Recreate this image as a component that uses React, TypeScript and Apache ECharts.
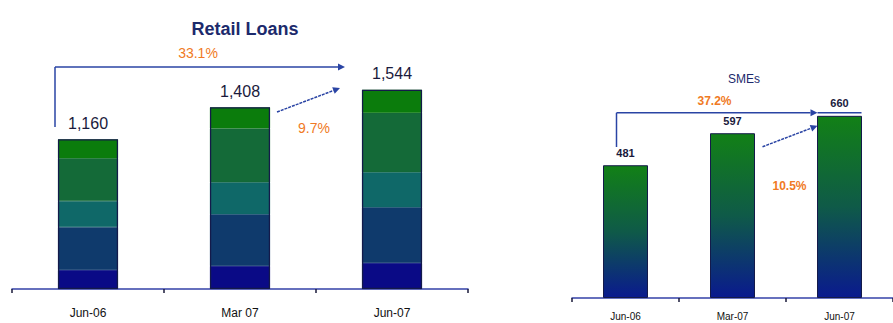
import React, { useEffect, useRef } from "react";
import * as echarts from "echarts";

// ---- Data ----
const retailCategories = ["Jun-06", "Mar 07", "Jun-07"];
const smeCategories = ["Jun-06", "Mar-07", "Jun-07"];
// Retail loan segments, bottom to top
const retailSeg1 = [147, 178, 201];
const retailSeg2 = [333, 402, 433];
const retailSeg3 = [201, 247, 271];
const retailSeg4 = [333, 418, 461];
const retailSeg5 = [146, 163, 178];
const retailTotals = [1160, 1408, 1544];
const smeValues = [481, 597, 660];
const retailGrowth = ["33.1%", "9.7%"];
const smeGrowth = ["37.2%", "10.5%"];

const segColors = ["#0a0a86", "#0f3a6c", "#0f6868", "#146a38", "#0b7c0c"];
const ORANGE = "#f07a24";
const ARROW = "#2a44a4";
const FONT = "'Liberation Sans', Arial, sans-serif";

function arrow(x1: number, y1: number, x2: number, y2: number, dashed: boolean, w = 1.5) {
  const dx = x2 - x1, dy = y2 - y1;
  const len = Math.sqrt(dx * dx + dy * dy);
  const ux = dx / len, uy = dy / len;
  const hl = 7, hw = 3.5;
  const bx = x2 - ux * hl, by = y2 - uy * hl;
  return [
    {
      type: "line",
      shape: { x1, y1, x2: bx, y2: by },
      style: { stroke: ARROW, lineWidth: w, lineDash: dashed ? [3, 1] : null },
    },
    {
      type: "polygon",
      shape: {
        points: [
          [x2, y2],
          [bx - uy * hw, by + ux * hw],
          [bx + uy * hw, by - ux * hw],
        ],
      },
      style: { fill: ARROW },
    },
  ];
}

export default function App() {
  const ref = useRef<HTMLDivElement>(null);
  useEffect(() => {
    document.body.style.margin = "0";
    const chart = echarts.init(ref.current!, null, { renderer: "svg" });
    const segs = [retailSeg1, retailSeg2, retailSeg3, retailSeg4, retailSeg5];
    const series: any[] = segs.map((d, i) => ({
      type: "bar",
      stack: "retail",
      xAxisIndex: 0,
      yAxisIndex: 0,
      barWidth: 60,
      data: d,
      itemStyle: { color: segColors[i], borderColor: segColors[i], borderWidth: 0.6 },
    }));
    series.push({
      type: "bar",
      xAxisIndex: 0,
      yAxisIndex: 0,
      barWidth: 60,
      barGap: "-100%",
      data: retailTotals,
      z: 5,
      itemStyle: { color: "rgba(0,0,0,0)", borderColor: "#141a4a", borderWidth: 1.2 },
      label: {
        show: true,
        position: "top",
        distance: 8,
        color: "#1a1a3c",
        fontSize: 16,
        fontFamily: FONT,
        formatter: (p: any) => p.value.toLocaleString("en-US"),
      },
    });
    series.push({
      type: "bar",
      xAxisIndex: 1,
      yAxisIndex: 1,
      barWidth: 45,
      data: smeValues,
      itemStyle: {
        color: new echarts.graphic.LinearGradient(0, 0, 0, 1, [
          { offset: 0, color: "#128016" },
          { offset: 0.5, color: "#0f5a48" },
          { offset: 1, color: "#0a1a8e" },
        ]),
        borderColor: "#141a4a",
        borderWidth: 1,
      },
      label: {
        show: true,
        position: "top",
        distance: 7,
        color: "#1a1a3c",
        fontSize: 11,
        fontWeight: "bold",
        fontFamily: FONT,
      },
    });

    const xAxisCommon = {
      type: "category",
      axisLine: { lineStyle: { color: "#3442a8", width: 1.5 } },
      axisTick: { show: true, length: 4, lineStyle: { color: "#1a1a3a", width: 1.5 } },
      splitLine: { show: false },
    };
    const yAxisCommon = {
      type: "value",
      min: 0,
      show: false,
      splitLine: { show: false },
    };

    chart.setOption({
      animation: false,
      title: [
        {
          text: "Retail Loans",
          left: 240,
          top: 15,
          textAlign: "center",
          textStyle: { fontSize: 18, fontWeight: "bold", color: "#1c2a6c", fontFamily: FONT },
        },
        {
          text: "SMEs",
          left: 739,
          top: 68,
          textAlign: "center",
          textStyle: { fontSize: 12, fontWeight: "normal", color: "#1c2a6c", fontFamily: FONT },
        },
      ],
      grid: [
        { left: 12, width: 456, top: 31, height: 258 },
        { left: 572, width: 333, top: 22, height: 276 },
      ],
      xAxis: [
        {
          ...xAxisCommon,
          gridIndex: 0,
          data: retailCategories,
          axisLabel: { color: "#111", fontSize: 12, margin: 18, fontFamily: FONT },
        },
        {
          ...xAxisCommon,
          gridIndex: 1,
          data: smeCategories,
          axisLabel: { color: "#111", fontSize: 10, margin: 13, fontFamily: FONT },
        },
      ],
      yAxis: [
        { ...yAxisCommon, gridIndex: 0, max: 2000 },
        { ...yAxisCommon, gridIndex: 1, max: 1000 },
      ],
      series,
    });

    const pL = (i: number, v: number) => chart.convertToPixel({ xAxisIndex: 0, yAxisIndex: 0 }, [i, v]) as number[];
    const pR = (i: number, v: number) => chart.convertToPixel({ xAxisIndex: 1, yAxisIndex: 1 }, [i, v]) as number[];

    // Retail annotations
    const lTop = pL(0, 1720);
    const lTopEnd = pL(2, 1720);
    const lVertEnd = pL(0, 1255);
    const lSmallA = pL(1, 1372);
    const lSmallB = pL(2, 1558);
    const lTxt1 = pL(1, 1829);
    const lTxt2 = pL(1, 1248);
    // SME annotations
    const rTop = pR(0, 671);
    const rTopEnd = pR(2, 671);
    const rVertEnd = pR(0, 547);
    const rSmallA = pR(1, 548);
    const rSmallB = pR(2, 624);
    const rTxt1 = pR(1, 715);
    const rTxt2 = pR(1, 406);

    const graphics: any[] = [
      {
        type: "line",
        shape: { x1: lTop[0] - 33, y1: lTop[1], x2: lVertEnd[0] - 33, y2: lVertEnd[1] },
        style: { stroke: ARROW, lineWidth: 1.5 },
      },
      ...arrow(lTop[0] - 33, lTop[1], lTopEnd[0] - 47, lTopEnd[1], false),
      ...arrow(lSmallA[0] + 37, lSmallA[1], lSmallB[0] - 52, lSmallB[1], true),
      {
        type: "text",
        x: lTxt1[0] - 42,
        y: lTxt1[1],
        style: { text: retailGrowth[0], fill: ORANGE, fontSize: 14, fontFamily: FONT, align: "center", verticalAlign: "middle" },
      },
      {
        type: "text",
        x: lTxt2[0] + 74,
        y: lTxt2[1],
        style: { text: retailGrowth[1], fill: ORANGE, fontSize: 14, fontFamily: FONT, align: "center", verticalAlign: "middle" },
      },
      {
        type: "line",
        shape: { x1: rTop[0] - 9, y1: rTop[1], x2: rVertEnd[0] - 9, y2: rVertEnd[1] },
        style: { stroke: ARROW, lineWidth: 1.5 },
      },
      ...arrow(rTop[0] - 9, rTop[1], rTopEnd[0] - 22, rTopEnd[1], false),
      {
        type: "line",
        shape: { x1: rTopEnd[0] - 22, y1: rTopEnd[1], x2: rTopEnd[0] + 22, y2: rTopEnd[1] },
        style: { stroke: ARROW, lineWidth: 1.5 },
      },
      ...arrow(rSmallA[0] + 30, rSmallA[1], rSmallB[0] - 22, rSmallB[1], true),
      {
        type: "text",
        x: rTxt1[0] - 18,
        y: rTxt1[1],
        style: { text: smeGrowth[0], fill: ORANGE, fontSize: 12, fontWeight: "bold", fontFamily: FONT, align: "center", verticalAlign: "middle" },
      },
      {
        type: "text",
        x: rTxt2[0] + 57,
        y: rTxt2[1],
        style: { text: smeGrowth[1], fill: ORANGE, fontSize: 12, fontWeight: "bold", fontFamily: FONT, align: "center", verticalAlign: "middle" },
      },
    ];
    chart.setOption({ graphic: graphics.map((g) => ({ ...g, silent: true, z: 10 })) });

    return () => chart.dispose();
  }, []);
  return (
    <div
      ref={ref}
      style={{ position: "fixed", left: 0, top: 0, width: 893, height: 323, background: "#fff" }}
    />
  );
}
